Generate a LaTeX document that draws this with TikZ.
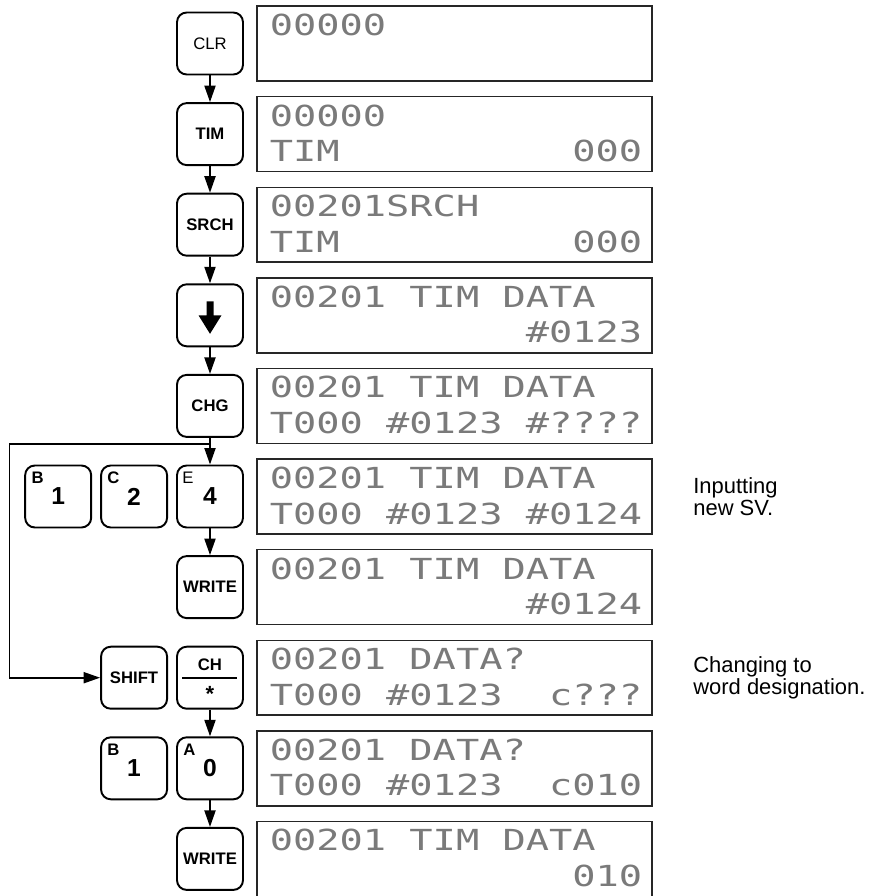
\documentclass[tikz,border=0pt]{standalone}
\usepackage{graphicx}
\usepackage{fontspec}
\setsansfont{Liberation Sans}
\newfontfamily\lcdfont{DejaVu Sans Mono}
\usetikzlibrary{arrows.meta, positioning, calc}
\newcommand\lcdrow[1]{\scalebox{1}[0.75]{#1}}
\tikzset{
  >={Triangle[length=3.3mm,width=2.2mm]},
  key/.style={
    draw, line width=1.1pt, rounded corners=5.5pt, inner sep=0pt,
    minimum width=1.32cm, minimum height=1.24cm,
    font=\sffamily\bfseries\fontsize{9.5}{10}\selectfont
  },
  digitkey/.style={key, font=\sffamily\bfseries\fontsize{14}{14}\selectfont},
  corner/.style={anchor=north west, inner sep=0pt,
    font=\sffamily\bfseries\fontsize{9.5}{10}\selectfont},
  lcd/.style={draw=black!85, line width=0.8pt, inner sep=0pt,
    minimum width=7.9cm, minimum height=1.5cm},
  lcdtxt/.style={anchor=base west, inner sep=0pt, text=black!52,
    font=\lcdfont\fontsize{22}{22}\selectfont},
  flow/.style={->, line width=1.1pt},
  note/.style={anchor=west, align=left, inner sep=0pt,
    font=\sffamily\fontsize{12.5}{11}\selectfont}
}
\begin{document}
\begin{tikzpicture}[x=0.02cm, y=-0.02cm]
  \useasboundingbox (0,0) rectangle (874,896);
  % displays
  \foreach \i/\la/\lb in {
      0/00000/{},
      1/00000/TIM~~~~~~~~~~000,
      2/00201SRCH/TIM~~~~~~~~~~000,
      3/00201 TIM DATA/~~~~~~~~~~~\#0123,
      4/00201 TIM DATA/T000 \#0123 \#????,
      5/00201 TIM DATA/T000 \#0123 \#0124,
      6/00201 TIM DATA/~~~~~~~~~~~\#0124,
      7/00201 DATA?/T000 \#0123~~c???,
      8/00201 DATA?/T000 \#0123~~c010,
      9/00201 TIM DATA/~~~~~~~~~~~~~010} {
    \pgfmathsetmacro\dtop{6+90.6*\i}
    \node[lcd] (d\i) at (454.5,\dtop+37.5) {};
    \node[lcdtxt] (t\i) at (269.5,\dtop+29.5) {\lcdrow{\la}};
    \node[lcdtxt] (u\i) at (269.5,\dtop+65) {\lcdrow{\lb}};
  }
  % keys
  \node[key, font=\sffamily\fontsize{9.5}{10}\selectfont] (clr) at (210,0 |- d0) {CLR};
  \node[key] (tim) at (210,0 |- d1) {TIM};
  \node[key] (srch) at (210,0 |- d2) {SRCH};
  \node[key] (down) at (210,0 |- d3) {};
  \fill[shift={(down.center)}] (-3.5,-14) -- (3.5,-14) -- (3.5,0) -- (11.5,0)
    -- (0,18.5) -- (-11.5,0) -- (-3.5,0) -- cycle;
  \node[key] (chg) at (210,0 |- d4) {CHG};
  \node[digitkey] (four) at (210,0 |- d5) {4};
  \node[digitkey, left=0.16cm of four] (two) {2};
  \node[digitkey, left=0.16cm of two] (one) {1};
  \node[corner, font=\sffamily\fontsize{9.5}{10}\selectfont] (four-e) at ($(four.north west)+(6,7)$) {E};
  \node[corner] (two-c) at ($(two.north west)+(7,7)$) {C};
  \node[corner] (one-b) at ($(one.north west)+(7,7)$) {B};
  \node[key] (write) at (210,0 |- d6) {WRITE};
  \node[key] (chstar) at (210,0 |- d7) {};
  \node[key, left=0.16cm of chstar] (shift) {SHIFT};
  \node[font=\sffamily\bfseries\fontsize{9.5}{10}\selectfont, inner sep=0pt] (ch) at ($(chstar)+(0,-13)$) {CH};
  \node[font=\sffamily\bfseries\fontsize{12.5}{12}\selectfont, inner sep=0pt] (star) at ($(chstar)+(0,16)$) {*};
  \draw[line width=1pt] ($(chstar)+(-28,0)$) -- ($(chstar)+(27,0)$);
  \node[digitkey] (zero) at (210,0 |- d8) {0};
  \node[digitkey, left=0.16cm of zero] (oneb) {1};
  \node[corner] (zero-a) at ($(zero.north west)+(7,7)$) {A};
  \node[corner] (oneb-b) at ($(oneb.north west)+(7,7)$) {B};
  \node[key] (write2) at (210,0 |- d9) {WRITE};
  % flow
  \draw[flow] (clr) -- (tim);
  \draw[flow] (tim) -- (srch);
  \draw[flow] (srch) -- (down);
  \draw[flow] (down) -- (chg);
  \draw[flow] (chg) -- (four);
  \coordinate (split) at ($(chg.south)+(0,6)$);
  \draw[flow] (split) -- ++(-200.5,0) |- (shift.west);
  \draw[flow] (four) -- (write);
  \draw[flow] (chstar) -- (zero);
  \draw[flow] (zero) -- (write2);
  % notes
  \node[note] (svnote) at (693,0 |- d5) {Inputting\\new SV.};
  \node[note] (wdnote) at (693,0 |- d7) {Changing to\\word designation.};
\end{tikzpicture}
\end{document}
